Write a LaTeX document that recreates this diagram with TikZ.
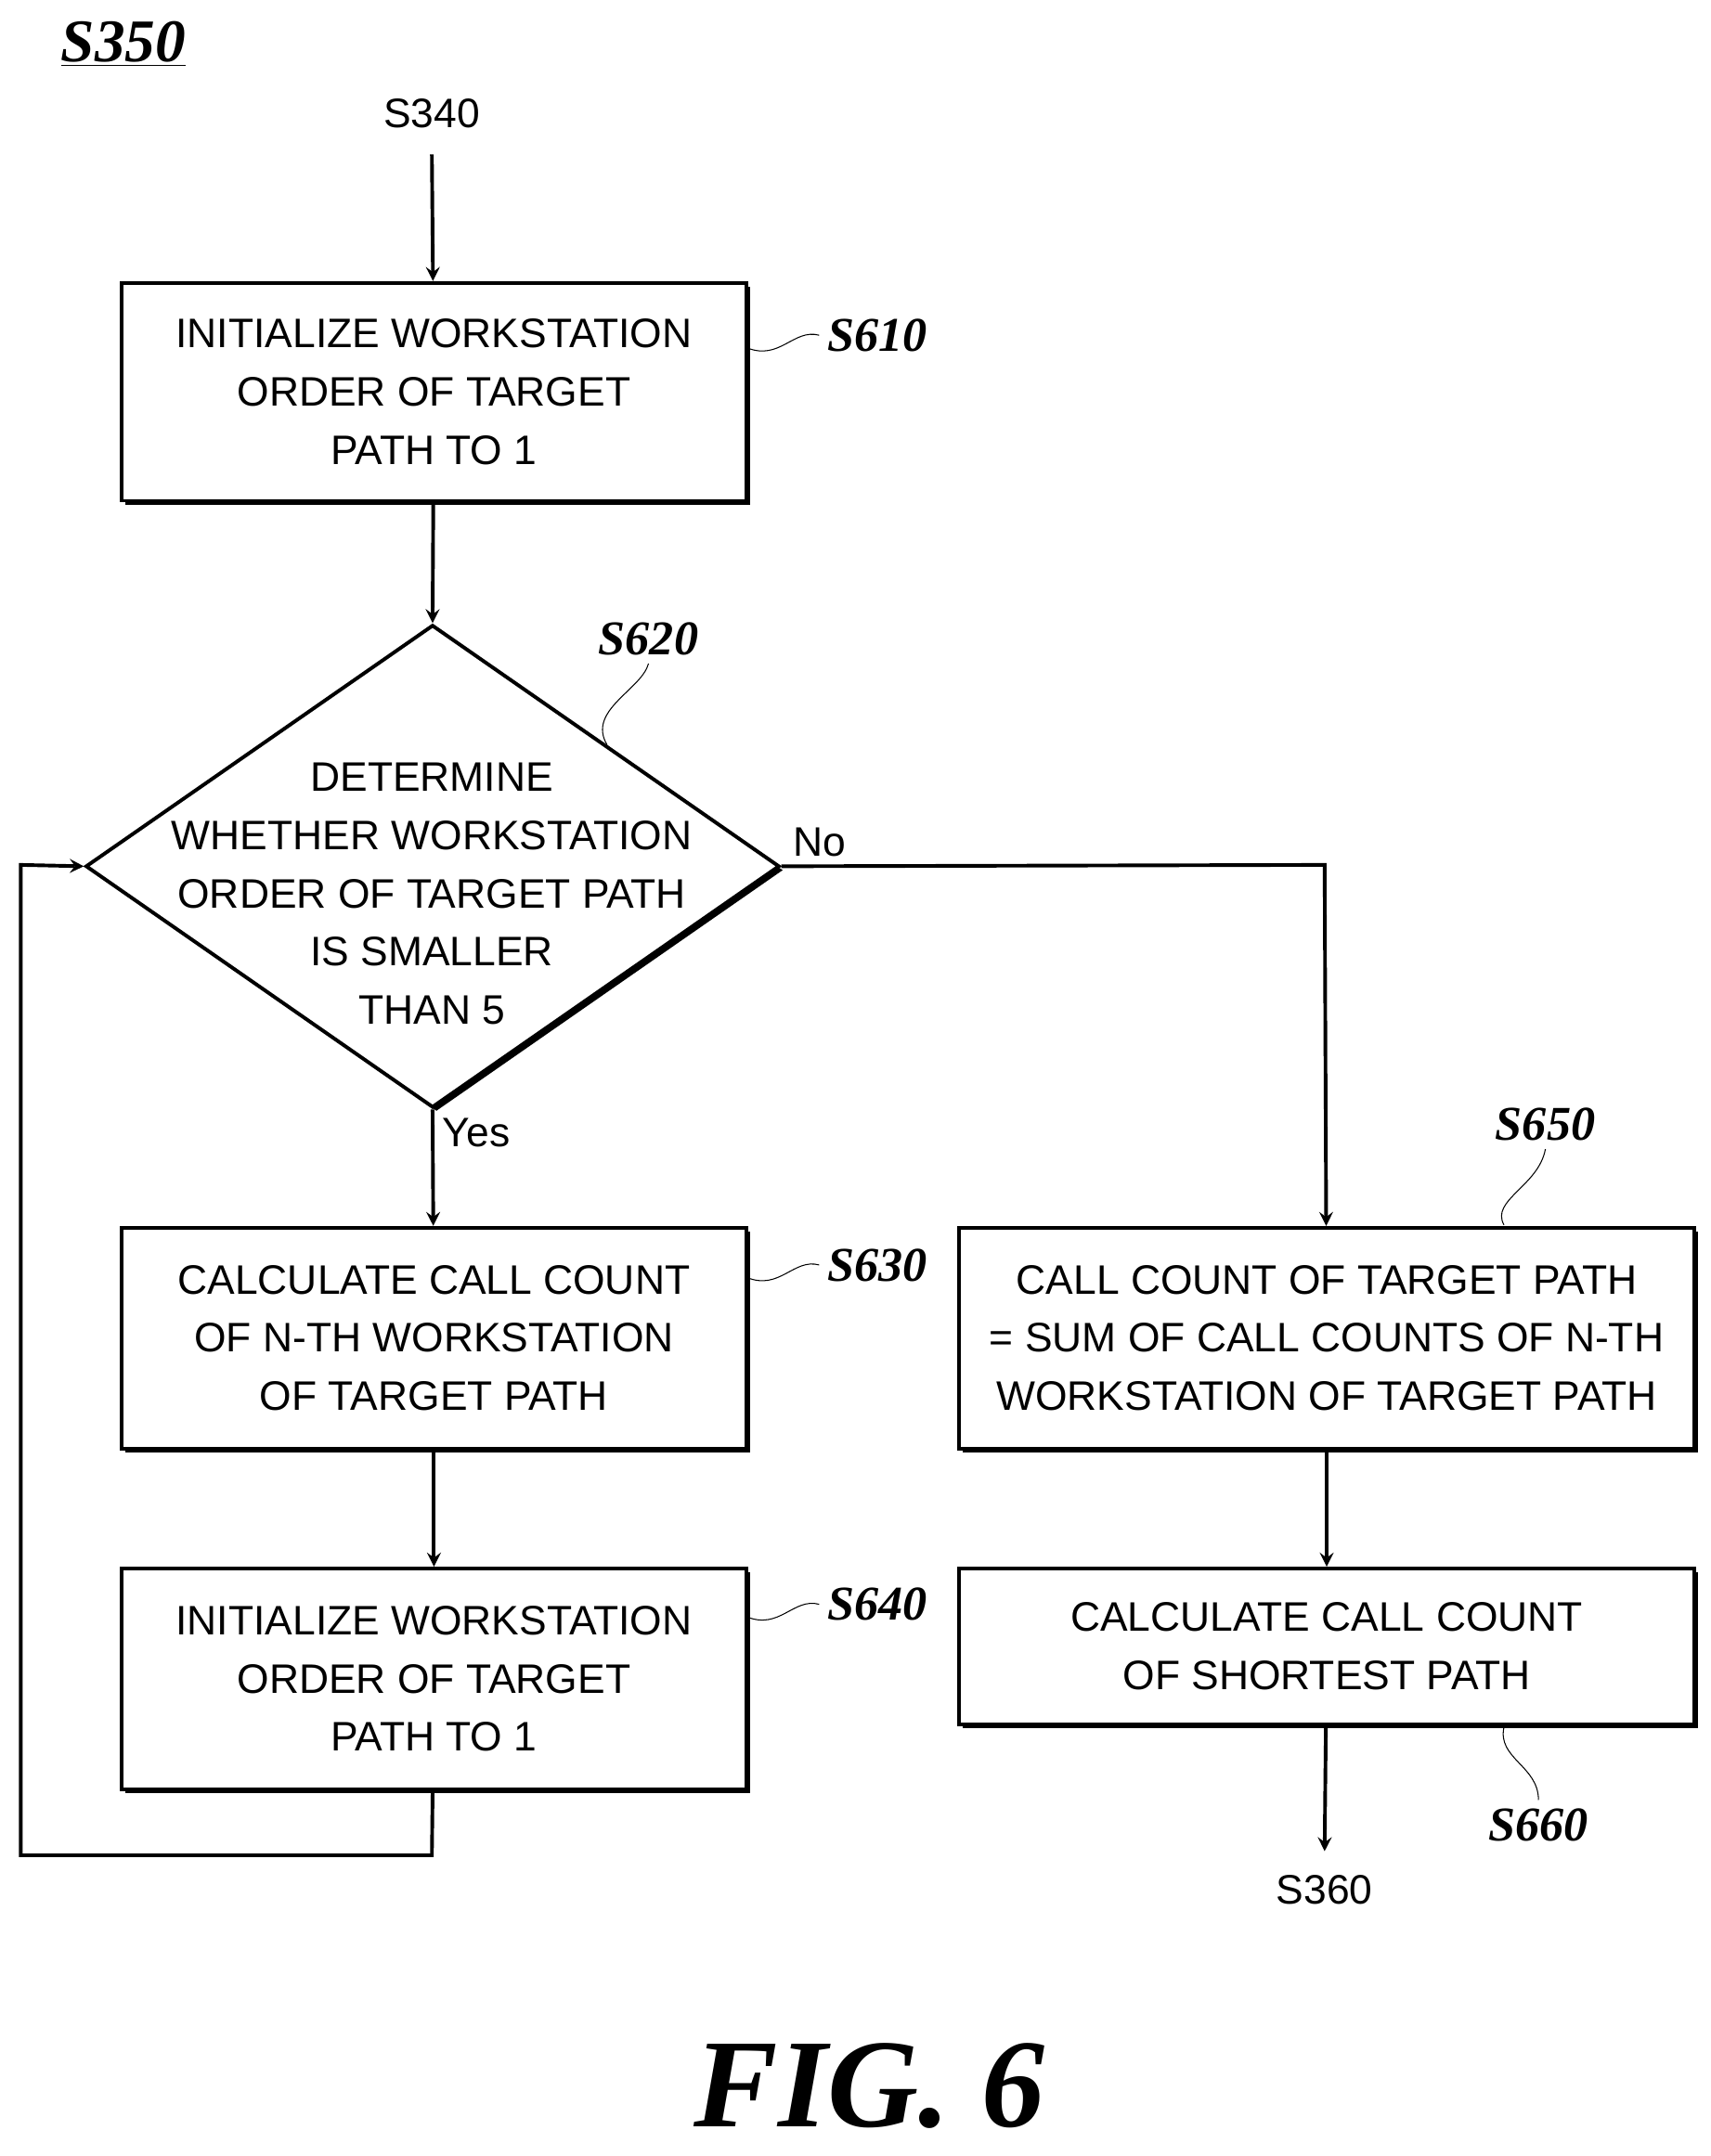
\documentclass[tikz,border=0pt]{standalone}
\usepackage{fontspec}
\setmainfont{Liberation Sans}
\newfontfamily\labelfont{Liberation Serif}
\usetikzlibrary{shapes.geometric, arrows, shadows}
\tikzstyle{arrow} = [line width=1.5pt,->,>=stealth]
\tikzstyle{stepbox} = [rectangle, draw, line width=1.5pt, fill=white, align=center, inner sep=0pt,
  font=\fontsize{17}{24}\selectfont,
  drop shadow={shadow xshift=1.6pt, shadow yshift=-1.6pt, fill=black, opacity=1}]
\tikzstyle{tag} = [font=\labelfont\itshape\bfseries\fontsize{20}{24}\selectfont]
\tikzstyle{plain} = [font=\fontsize{17}{24}\selectfont]

\begin{document}
\begin{tikzpicture}[x=0.02cm, y=-0.02cm]
            \useasboundingbox (0,0) rectangle (1240,1563);
            \node (s350) [tag, anchor=west, font=\labelfont\itshape\bfseries\fontsize{25}{28}\selectfont] at (38,32) {\underline{S350}};
            \node (s340) [plain] at (313,82) {S340};
            \node (init1) [stepbox, minimum width=9.06cm, minimum height=3.16cm] at (314.5,284) {INITIALIZE WORKSTATION\\ORDER OF TARGET\\PATH TO 1};
            \node (check) [diamond, draw, line width=1.5pt, fill=white, inner sep=0pt, minimum width=10.06cm, minimum height=7cm,
              drop shadow={shadow xshift=1.6pt, shadow yshift=-1.6pt, fill=black, opacity=1}] at (313.5,628) {};
            \node (checktxt) [plain, align=center] at (313,648) {DETERMINE\\WHETHER WORKSTATION\\ORDER OF TARGET PATH\\IS SMALLER\\THAN 5};
            \node (calc) [stepbox, minimum width=9.06cm, minimum height=3.2cm] at (314.5,970) {CALCULATE CALL COUNT\\OF N-TH WORKSTATION\\OF TARGET PATH};
            \node (init2) [stepbox, minimum width=9.06cm, minimum height=3.2cm] at (314.5,1217) {INITIALIZE WORKSTATION\\ORDER OF TARGET\\PATH TO 1};
            \node (sum) [stepbox, minimum width=10.66cm, minimum height=3.2cm] at (961.5,970) {CALL COUNT OF TARGET PATH\\= SUM OF CALL COUNTS OF N-TH\\WORKSTATION OF TARGET PATH};
            \node (short) [stepbox, minimum width=10.66cm, minimum height=2.26cm] at (961.5,1193.5) {CALCULATE CALL COUNT\\OF SHORTEST PATH};
            \node (s360) [plain] at (960,1370) {S360};
            \node (fig) [font=\labelfont\itshape\bfseries\fontsize{52}{58}\selectfont] at (630,1512) {FIG. 6};

            \node (t610) [tag] at (636,243) {S610};
            \node (t620) [tag] at (470,463) {S620};
            \node (t630) [tag] at (636,917) {S630};
            \node (t640) [tag] at (636,1163) {S640};
            \node (t650) [tag] at (1120,815) {S650};
            \node (t660) [tag] at (1115,1323) {S660};

            \coordinate (top) at (313,112);
            \coordinate (endpt) at (960,1342);
            \coordinate (loopa) at (313,1345);
            \coordinate (loopb) at (15,1345);
            \coordinate (loopc) at (15,627);
            \coordinate (nocorner) at (960,627);

            \draw [arrow] (top) -- (init1);
            \draw [arrow] (init1) -- (check.north);
            \draw [arrow] (check.south) -- (calc) node[pos=0.2, right, plain] {Yes};
            \draw [arrow] (check.east) -- (nocorner) node[pos=0.07, above, plain] {No} -- (sum);
            \draw [arrow] (calc) -- (init2);
            \draw [arrow] (init2) -- (loopa) -- (loopb) -- (loopc) -- (check.west);
            \draw [arrow] (sum) -- (short);
            \draw [arrow] (short) -- (endpt);

            % step tags
            \draw [thin] (541,252) .. controls (565,262) and (575,238) .. (t610.west);
            \draw [thin] (440,540) .. controls (425,515) and (465,500) .. (t620.south);
            \draw [thin] (541,926) .. controls (565,936) and (575,912) .. (t630.west);
            \draw [thin] (541,1172) .. controls (565,1182) and (575,1158) .. (t640.west);
            \draw [thin] (1090,888) .. controls (1080,870) and (1115,860) .. (t650.south);
            \draw [thin] (1090,1252) .. controls (1085,1275) and (1115,1280) .. (t660.north);
\end{tikzpicture}
\end{document}
